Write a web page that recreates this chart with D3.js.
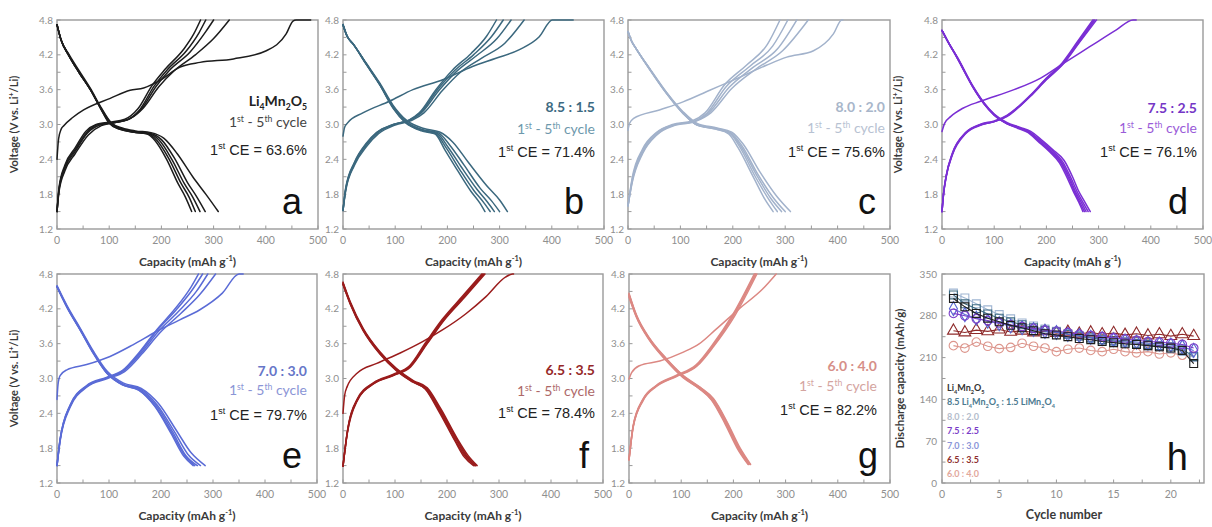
<!DOCTYPE html>
<html><head><meta charset="utf-8">
<script src="https://cdn.jsdelivr.net/npm/d3@7"></script>
<style>body{margin:0;background:#fff;} svg{display:block;}</style>
</head><body>
<svg id="c" width="1212" height="527"></svg>
<script>
// ---------------- DATA ----------------
const capTicks = [0,100,200,300,400,500];
const voltTicks = [1.2,1.8,2.4,3.0,3.6,4.2,4.8];
const cycleTicks = [0,5,10,15,20];
const dischargeTicks = [0,70,140,210,280,350];

// panel a: Li4Mn2O5
const aFirst = [[0,2.4],[3,2.75],[8,2.92],[13,2.98],[30,3.12],[51,3.25],[102,3.45],[140,3.59],[166,3.63],[197,3.76],[236,3.99],[274,4.07],[338,4.13],[401,4.27],[439,4.56],[452,4.78],[458,4.8],[486,4.8]];
const aCharge = [
 [[0,1.5],[4,1.85],[15,2.2],[35,2.5],[60,2.82],[85,2.98],[110,3.03],[140,3.1],[165,3.28],[195,3.65],[225,3.93],[265,4.2],[300,4.48],[330,4.8]],
 [[0,1.5],[4,1.88],[15,2.24],[35,2.54],[58,2.85],[82,2.99],[108,3.03],[137,3.09],[162,3.27],[190,3.66],[216,3.94],[255,4.25],[285,4.6],[300,4.8]],
 [[0,1.5],[4,1.9],[15,2.27],[35,2.57],[57,2.86],[78,3.0],[104,3.03],[134,3.08],[159,3.26],[186,3.66],[211,3.94],[248,4.27],[272,4.58],[285,4.8]],
 [[0,1.5],[4,1.92],[15,2.3],[35,2.6],[55,2.88],[75,3.0],[100,3.04],[130,3.09],[155,3.27],[182,3.67],[207,3.95],[243,4.3],[262,4.56],[275,4.8]]
];
const aDischarge = [
 [[0,4.72],[8,4.45],[22,4.22],[42,3.93],[64,3.62],[84,3.3],[104,3.03],[125,2.94],[150,2.89],[180,2.86],[205,2.76],[230,2.5],[260,2.1],[285,1.8],[309,1.5]],
 [[0,4.72],[8,4.45],[22,4.2],[42,3.9],[64,3.6],[84,3.28],[103,3.03],[122,2.93],[148,2.88],[178,2.85],[200,2.74],[225,2.42],[250,2.0],[268,1.75],[284,1.5]],
 [[0,4.72],[8,4.45],[22,4.2],[42,3.9],[64,3.6],[84,3.28],[102,3.02],[121,2.93],[146,2.87],[176,2.84],[196,2.73],[220,2.4],[244,1.98],[260,1.75],[274,1.5]],
 [[0,4.72],[8,4.45],[22,4.2],[42,3.9],[64,3.6],[84,3.27],[101,3.02],[120,2.92],[145,2.87],[174,2.84],[192,2.72],[215,2.4],[238,1.98],[253,1.75],[265,1.5]],
 [[0,4.72],[8,4.45],[22,4.2],[42,3.9],[64,3.6],[84,3.27],[100,3.02],[119,2.92],[144,2.87],[172,2.84],[188,2.72],[210,2.4],[232,1.98],[246,1.75],[258,1.5]]
];

// panel b: 8.5 : 1.5
const bFirst = [[0,2.8],[3,2.95],[8,3.02],[38,3.2],[89,3.4],[134,3.6],[191,3.77],[248,4.0],[293,4.14],[338,4.29],[376,4.51],[401,4.8],[441,4.8]];
const bCharge = [
 [[0,1.52],[5,1.85],[22,2.3],[45,2.62],[68,2.84],[100,2.99],[132,3.07],[155,3.2],[190,3.58],[225,3.9],[265,4.14],[310,4.4],[347,4.8]],
 [[0,1.52],[5,1.87],[22,2.32],[45,2.65],[66,2.85],[98,3.0],[130,3.08],[150,3.2],[184,3.59],[218,3.92],[255,4.18],[295,4.48],[322,4.8]],
 [[0,1.52],[5,1.88],[22,2.34],[45,2.67],[65,2.86],[97,3.0],[128,3.08],[148,3.2],[181,3.6],[214,3.93],[250,4.2],[285,4.52],[307,4.8]],
 [[0,1.52],[5,1.9],[22,2.35],[45,2.68],[64,2.86],[96,3.0],[127,3.08],[146,3.2],[178,3.6],[210,3.94],[245,4.22],[275,4.52],[294,4.8]]
];
const bDischarge = [
 [[0,4.72],[8,4.52],[20,4.38],[45,4.05],[70,3.72],[96,3.33],[122,3.07],[155,2.93],[185,2.87],[210,2.7],[240,2.35],[275,1.95],[300,1.7],[315,1.5]],
 [[0,4.72],[8,4.52],[20,4.38],[45,4.04],[70,3.7],[96,3.31],[121,3.05],[153,2.91],[182,2.86],[205,2.64],[232,2.3],[263,1.9],[285,1.68],[300,1.5]],
 [[0,4.72],[8,4.52],[20,4.38],[45,4.04],[70,3.7],[96,3.3],[121,3.04],[152,2.9],[180,2.85],[202,2.6],[228,2.25],[257,1.88],[277,1.66],[290,1.5]],
 [[0,4.72],[8,4.52],[20,4.38],[45,4.03],[70,3.69],[96,3.29],[120,3.03],[151,2.9],[178,2.84],[199,2.58],[224,2.22],[251,1.86],[270,1.65],[282,1.5]],
 [[0,4.72],[8,4.52],[20,4.38],[45,4.03],[70,3.69],[96,3.28],[120,3.03],[150,2.89],[176,2.84],[196,2.55],[220,2.2],[245,1.85],[262,1.65],[272,1.5]]
];

// panel c: 8.0 : 2.0
const cFirst = [[0,2.9],[3,3.02],[10,3.1],[60,3.25],[105,3.39],[156,3.59],[200,3.76],[264,4.02],[303,4.16],[354,4.27],[392,4.56],[408,4.8],[410,4.8]];
const cCharge = [
 [[0,1.6],[8,2.0],[28,2.5],[55,2.82],[88,2.98],[128,3.05],[158,3.2],[198,3.62],[245,3.96],[295,4.27],[344,4.8]],
 [[0,1.6],[8,2.02],[28,2.52],[55,2.83],[87,2.99],[126,3.05],[154,3.2],[193,3.64],[238,3.98],[285,4.3],[322,4.8]],
 [[0,1.6],[8,2.05],[28,2.55],[54,2.85],[86,2.99],[124,3.05],[150,3.19],[188,3.66],[232,4.0],[276,4.35],[305,4.8]],
 [[0,1.6],[8,2.08],[28,2.58],[54,2.86],[85,3.0],[122,3.06],[147,3.2],[184,3.68],[226,4.02],[266,4.38],[290,4.8]]
];
const cDischarge = [
 [[0,4.6],[6,4.45],[16,4.3],[41,3.97],[73,3.56],[105,3.22],[132,3.02],[170,2.94],[198,2.87],[220,2.66],[252,2.18],[285,1.75],[310,1.5]],
 [[0,4.6],[6,4.45],[16,4.3],[41,3.96],[73,3.55],[105,3.2],[131,3.0],[169,2.93],[196,2.86],[217,2.64],[248,2.14],[278,1.73],[300,1.5]],
 [[0,4.6],[6,4.45],[16,4.3],[41,3.96],[73,3.55],[105,3.2],[131,3.0],[169,2.93],[195,2.85],[215,2.63],[246,2.12],[273,1.72],[293,1.5]],
 [[0,4.6],[6,4.45],[16,4.3],[41,3.96],[73,3.54],[105,3.19],[130,3.0],[168,2.92],[194,2.85],[213,2.62],[243,2.1],[268,1.72],[285,1.5]],
 [[0,4.6],[6,4.45],[16,4.3],[41,3.95],[73,3.54],[105,3.19],[130,3.0],[167,2.92],[192,2.84],[210,2.6],[240,2.08],[262,1.7],[277,1.5]]
];

// panel d: 7.5 : 2.5
const dFirst = [[0,2.88],[5,3.02],[17,3.14],[40,3.28],[74,3.4],[138,3.6],[189,3.8],[232,4.05],[283,4.34],[334,4.63],[366,4.8],[372,4.8]];
const dCharge = [
 [[0,1.5],[3,1.8],[8,2.1],[20,2.48],[45,2.84],[75,2.99],[100,3.05],[125,3.14],[150,3.32],[170,3.49],[200,3.77],[233,4.05],[262,4.4],[296,4.8]],
 [[0,1.5],[3,1.8],[8,2.1],[20,2.49],[45,2.85],[75,3.0],[100,3.05],[125,3.15],[150,3.33],[170,3.5],[200,3.78],[232,4.05],[261,4.4],[293,4.8]],
 [[0,1.5],[3,1.81],[8,2.11],[20,2.5],[45,2.85],[75,3.0],[100,3.05],[125,3.15],[150,3.33],[170,3.5],[200,3.79],[232,4.06],[260,4.41],[291,4.8]],
 [[0,1.5],[3,1.82],[8,2.12],[20,2.51],[45,2.86],[75,3.01],[100,3.06],[125,3.16],[150,3.34],[170,3.51],[200,3.8],[231,4.07],[259,4.42],[289,4.8]]
];
const dDischarge = [
 [[0,4.62],[10,4.45],[30,4.15],[60,3.65],[80,3.38],[100,3.18],[125,3.03],[150,2.95],[170,2.88],[190,2.74],[212,2.57],[234,2.38],[250,2.1],[262,1.85],[274,1.66],[284,1.5]],
 [[0,4.62],[10,4.45],[30,4.14],[60,3.64],[80,3.37],[100,3.17],[124,3.02],[149,2.94],[168,2.87],[188,2.73],[210,2.56],[231,2.36],[247,2.08],[259,1.84],[270,1.66],[280,1.5]],
 [[0,4.62],[10,4.45],[30,4.14],[60,3.64],[80,3.37],[100,3.17],[124,3.02],[148,2.94],[167,2.87],[186,2.72],[208,2.55],[229,2.35],[245,2.07],[256,1.84],[267,1.66],[276,1.5]],
 [[0,4.62],[10,4.45],[30,4.13],[60,3.63],[80,3.36],[100,3.16],[123,3.02],[147,2.94],[166,2.87],[185,2.72],[206,2.55],[227,2.35],[243,2.07],[254,1.84],[264,1.66],[273,1.5]],
 [[0,4.62],[10,4.45],[30,4.13],[60,3.63],[80,3.36],[100,3.16],[123,3.02],[146,2.93],[165,2.86],[184,2.71],[205,2.54],[225,2.34],[241,2.06],[252,1.84],[262,1.66],[270,1.5]]
];

// panel e: 7.0 : 3.0
const eFirst = [[0,2.64],[2,2.9],[6,3.05],[19,3.15],[57,3.24],[102,3.38],[146,3.58],[191,3.81],[236,4.01],[274,4.18],[318,4.47],[350,4.8],[358,4.8]];
const eCharge = [
 [[0,1.5],[6,1.92],[25,2.5],[57,2.85],[97,3.0],[130,3.12],[163,3.42],[197,3.78],[238,4.12],[275,4.45],[305,4.8]],
 [[0,1.5],[6,1.94],[25,2.52],[57,2.86],[96,3.01],[128,3.13],[161,3.43],[194,3.8],[233,4.15],[268,4.5],[290,4.8]],
 [[0,1.5],[6,1.95],[25,2.53],[57,2.87],[96,3.01],[127,3.13],[159,3.44],[191,3.81],[229,4.18],[262,4.55],[280,4.8]],
 [[0,1.5],[6,1.96],[25,2.54],[57,2.88],[95,3.02],[126,3.14],[158,3.45],[190,3.82],[227,4.2],[258,4.58],[272,4.8]]
];
const eDischarge = [
 [[0,4.6],[19,4.26],[45,3.86],[70,3.47],[97,3.12],[128,2.92],[162,2.83],[196,2.56],[230,2.1],[258,1.72],[285,1.5]],
 [[0,4.58],[19,4.24],[45,3.84],[70,3.45],[96,3.1],[127,2.9],[160,2.82],[193,2.54],[226,2.08],[252,1.69],[276,1.5]],
 [[0,4.58],[19,4.24],[45,3.84],[70,3.44],[96,3.1],[127,2.9],[159,2.81],[191,2.53],[223,2.07],[248,1.67],[270,1.5]],
 [[0,4.58],[19,4.23],[45,3.83],[70,3.44],[96,3.09],[126,2.89],[158,2.8],[189,2.52],[221,2.06],[246,1.67],[265,1.5]],
 [[0,4.58],[19,4.23],[45,3.83],[70,3.43],[96,3.09],[126,2.89],[157,2.8],[188,2.52],[219,2.06],[244,1.66],[262,1.5]]
];

// panel f: 6.5 : 3.5
const fFirst = [[0,2.4],[3,2.7],[8,2.86],[27,3.09],[65,3.26],[110,3.44],[154,3.64],[192,3.84],[237,4.12],[275,4.41],[313,4.75],[326,4.8],[328,4.8]];
const fCharge = [
 [[0,1.49],[8,2.04],[27,2.61],[59,2.91],[97,3.05],[130,3.2],[162,3.6],[194,4.0],[234,4.4],[273,4.8]],
 [[0,1.49],[8,2.05],[27,2.62],[59,2.91],[97,3.06],[129,3.21],[161,3.6],[193,4.0],[232,4.4],[271,4.8]],
 [[0,1.49],[8,2.06],[27,2.63],[59,2.92],[97,3.06],[129,3.21],[160,3.61],[192,4.01],[231,4.41],[269,4.8]],
 [[0,1.49],[8,2.07],[27,2.64],[59,2.93],[96,3.07],[128,3.22],[159,3.62],[191,4.02],[230,4.42],[267,4.8]]
];
const fDischarge = [
 [[0,4.66],[14,4.32],[39,3.86],[71,3.46],[103,3.17],[136,2.96],[162,2.84],[188,2.48],[220,1.96],[240,1.68],[258,1.5]],
 [[0,4.64],[14,4.3],[39,3.84],[71,3.45],[103,3.16],[135,2.95],[161,2.83],[187,2.47],[219,1.95],[238,1.67],[256,1.5]],
 [[0,4.64],[14,4.3],[39,3.84],[71,3.44],[103,3.15],[135,2.95],[160,2.83],[186,2.46],[218,1.94],[237,1.66],[255,1.5]],
 [[0,4.62],[14,4.29],[39,3.83],[71,3.43],[103,3.14],[134,2.94],[159,2.82],[185,2.45],[216,1.93],[235,1.66],[253,1.5]],
 [[0,4.62],[14,4.28],[39,3.82],[71,3.42],[103,3.13],[134,2.94],[158,2.82],[184,2.44],[215,1.93],[233,1.65],[251,1.5]]
];

// panel g: 6.0 : 4.0
const gFirst = [[0,2.99],[5,3.1],[20,3.22],[59,3.3],[103,3.45],[135,3.6],[167,3.85],[211,4.2],[256,4.54],[282,4.8]];
const gCharge = [
 [[0,1.6],[8,2.16],[27,2.62],[52,2.86],[90,3.03],[130,3.21],[162,3.55],[202,4.07],[245,4.8]],
 [[0,1.6],[8,2.17],[27,2.63],[52,2.87],[90,3.04],[129,3.22],[161,3.56],[200,4.08],[243,4.8]],
 [[0,1.6],[8,2.18],[27,2.64],[52,2.87],[90,3.04],[129,3.22],[160,3.56],[199,4.08],[242,4.8]],
 [[0,1.6],[8,2.19],[27,2.65],[52,2.88],[89,3.05],[128,3.23],[159,3.57],[198,4.09],[240,4.8]]
];
const gDischarge = [
 [[0,4.47],[14,4.1],[39,3.7],[71,3.35],[103,3.06],[136,2.85],[162,2.65],[188,2.25],[213,1.8],[233,1.52]],
 [[0,4.45],[14,4.09],[39,3.69],[71,3.34],[103,3.05],[135,2.85],[161,2.65],[187,2.25],[212,1.79],[232,1.52]],
 [[0,4.44],[14,4.08],[39,3.68],[71,3.33],[103,3.04],[135,2.84],[160,2.64],[186,2.24],[211,1.78],[230,1.52]],
 [[0,4.42],[14,4.07],[39,3.67],[71,3.32],[103,3.03],[134,2.83],[159,2.63],[185,2.23],[210,1.78],[229,1.52]],
 [[0,4.4],[14,4.06],[39,3.66],[71,3.31],[103,3.02],[134,2.83],[158,2.63],[184,2.22],[209,1.77],[228,1.52]]
];

// panel h: discharge capacity vs cycle
const cycles = [1,2,3,4,5,6,7,8,9,10,11,12,13,14,15,16,17,18,19,20,21,22];
const hLi4Mn2O5 = [309,295,284,276,270,264,260,255,250,248,245,242,240,237,235,233,232,230,228,226,222,200];
const h85 = [315,300,292,283,276,270,265,260,256,253,249,246,243,240,238,236,234,232,230,228,224,212];
const h80 = [318,310,300,290,282,275,268,263,258,254,250,246,243,240,237,234,232,230,228,225,220,210];
const h75 = [284,280,275,272,268,265,262,259,256,254,252,249,247,245,243,241,239,237,236,234,232,226];
const h70 = [292,282,276,271,267,263,260,257,254,252,249,247,244,242,240,238,236,234,233,231,228,222];
const h65 = [255,252,256,254,257,253,255,252,254,251,253,250,252,249,251,248,250,247,249,246,249,246];
const h60 = [230,226,236,229,225,227,234,229,226,220,224,226,222,220,224,220,218,220,216,218,214,212];
const legendLabels = ["Li4Mn2O5","8.5 Li4Mn2O5 : 1.5 LiMn2O4","8.0 : 2.0","7.5 : 2.5","7.0 : 3.0","6.5 : 3.5","6.0 : 4.0"];

// ---------------- DRAW ----------------
const svg = d3.select('#c');
const TICKC = '#8f8f8f', FRAME = '#9a9a9a', TITLEC = '#3a3a3a';

function rich(text, parts, fs) {
  let shift = 0;
  parts.forEach(([t, k]) => {
    const ts = text.append('tspan').text(t);
    const target = k === 'sub' ? fs * 0.28 : k === 'sup' ? -fs * 0.38 : 0;
    if (target - shift !== 0) ts.attr('dy', target - shift);
    shift = target;
    if (k !== 'n') ts.attr('font-size', fs * 0.62);
  });
}
function chemParts(s) {
  const out = [];
  for (let i = 0; i < s.length; i++) {
    const ch = s[i];
    if (/\d/.test(ch) && i > 0 && /[a-zA-Z]/.test(s[i-1])) out.push([ch, 'sub']);
    else if (out.length && out[out.length-1][1] === 'n') out[out.length-1][0] += ch;
    else out.push([ch, 'n']);
  }
  return out;
}

const panels = [
  {first:aFirst, charge:aCharge, dis:aDischarge, x0:57, x1:318, y0:20, y1:229, color:'#1c1c1c',
   title:'Li4Mn2O5', titleColor:'#222', cycColor:'#444', ce:'63.6%', letter:'a', tx:307, ty:[106,127,155], lx:302, ly:214, ylab:true, ylabX:18},
  {first:bFirst, charge:bCharge, dis:bDischarge, x0:343, x1:604, y0:20, y1:229, color:'#3b687e',
   title:'8.5 : 1.5', titleColor:'#3d6a82', cycColor:'#6d98ac', ce:'71.4%', letter:'b', tx:595, ty:[112,134,157], lx:584, ly:214},
  {first:cFirst, charge:cCharge, dis:cDischarge, x0:628, x1:890, y0:20, y1:229, color:'#a2b2cb',
   title:'8.0 : 2.0', titleColor:'#a8b6ca', cycColor:'#b7c2d2', ce:'75.6%', letter:'c', tx:885, ty:[112,133,157], lx:876, ly:214},
  {first:dFirst, charge:dCharge, dis:dDischarge, x0:942, x1:1203, y0:20, y1:229, color:'#7a2fd4',
   title:'7.5 : 2.5', titleColor:'#7536c6', cycColor:'#9a5bd8', ce:'76.1%', letter:'d', tx:1197, ty:[113,133,157], lx:1188, ly:214, ylab:true, ylabX:902},
  {first:eFirst, charge:eCharge, dis:eDischarge, x0:57, x1:317, y0:274, y1:483, color:'#5a6bd6',
   title:'7.0 : 3.0', titleColor:'#6676c8', cycColor:'#8b95d6', ce:'79.7%', letter:'e', tx:307, ty:[376,395,420], lx:302, ly:468, ylab:true, ylabX:18},
  {first:fFirst, charge:fCharge, dis:fDischarge, x0:343, x1:603, y0:274, y1:483, color:'#9a1c1c',
   title:'6.5 : 3.5', titleColor:'#962828', cycColor:'#ad6868', ce:'78.4%', letter:'f', tx:595, ty:[375,396,418], lx:589, ly:468},
  {first:gFirst, charge:gCharge, dis:gDischarge, x0:629, x1:890, y0:274, y1:483, color:'#dc8883',
   title:'6.0 : 4.0', titleColor:'#d68f88', cycColor:'#d4a4a0', ce:'82.2%', letter:'g', tx:877, ty:[371,391,415], lx:878, ly:468}
];

function frameAndTicks(g, x, y, xt, xMinor, yMinor, x0, x1, y0, y1) {
  g.append('rect').attr('x', x0).attr('y', y0).attr('width', x1 - x0).attr('height', y1 - y0)
    .attr('fill', 'none').attr('stroke', FRAME).attr('stroke-width', 1.4);
  xMinor.forEach(v => g.append('line').attr('x1', x(v)).attr('x2', x(v)).attr('y1', y1).attr('y2', y1 - 3.5)
    .attr('stroke', FRAME).attr('stroke-width', 1));
  yMinor.forEach(v => g.append('line').attr('x1', x0).attr('x2', x0 + 3.5).attr('y1', y(v)).attr('y2', y(v))
    .attr('stroke', FRAME).attr('stroke-width', 1));
  xt.forEach(v => g.append('text').attr('x', x(v)).attr('y', y1 + 15).attr('text-anchor', 'middle')
    .attr('font-family', 'Lato').attr('font-size', 10.5).attr('fill', TICKC).text(v));
}

panels.forEach(p => {
  const g = svg.append('g');
  const x = d3.scaleLinear().domain([0, 500]).range([p.x0, p.x1]);
  const y = d3.scaleLinear().domain([1.2, 4.8]).range([p.y1, p.y0]);
  const xMinor = d3.range(0, 501, 50);
  const yMinor = d3.range(12, 49, 3).map(v => v / 10);
  frameAndTicks(g, x, y, capTicks, xMinor, yMinor, p.x0, p.x1, p.y0, p.y1);
  voltTicks.forEach(v => g.append('text').attr('x', p.x0 - 4).attr('y', y(v) + 3.5).attr('text-anchor', 'end')
    .attr('font-family', 'Lato').attr('font-size', 10).attr('fill', TICKC).text(v.toFixed(1)));
  const xt = g.append('text').attr('x', (p.x0 + p.x1) / 2).attr('y', p.y1 + 37).attr('text-anchor', 'middle')
    .attr('font-family', 'Lato').attr('font-weight', 'bold').attr('font-size', 12).attr('fill', TITLEC);
  rich(xt, [['Capacity (mAh g', 'n'], ['-1', 'sup'], [')', 'n']], 12);
  if (p.ylab) {
    const yt = g.append('text').attr('transform', `translate(${p.ylabX},${(p.y0 + p.y1) / 2}) rotate(-90)`)
      .attr('text-anchor', 'middle').attr('font-family', 'Lato').attr('font-weight', 'bold').attr('font-size', 11)
      .attr('fill', TITLEC);
    rich(yt, [['Voltage (V vs. Li', 'n'], ['+', 'sup'], ['/Li)', 'n']], 11);
  }
  const line = d3.line().x(d => x(d[0])).y(d => y(d[1])).curve(d3.curveMonotoneX);
  const lg = g.append('g').attr('fill', 'none').attr('stroke', p.color).attr('stroke-width', 1.5)
    .attr('stroke-linejoin', 'round').attr('stroke-linecap', 'round');
  p.dis.forEach(c => lg.append('path').attr('d', line(c)));
  p.charge.forEach(c => lg.append('path').attr('d', line(c)));
  lg.append('path').attr('d', line(p.first));
  const t1 = g.append('text').attr('x', p.tx).attr('y', p.ty[0]).attr('text-anchor', 'end')
    .attr('font-family', 'Lato').attr('font-weight', 'bold').attr('font-size', 14).attr('fill', p.titleColor);
  if (p.title.startsWith('Li')) rich(t1, chemParts(p.title), 14); else t1.text(p.title);
  const t2 = g.append('text').attr('x', p.tx).attr('y', p.ty[1]).attr('text-anchor', 'end')
    .attr('font-family', 'Lato').attr('font-size', 14).attr('fill', p.cycColor);
  rich(t2, [['1', 'n'], ['st', 'sup'], [' - 5', 'n'], ['th', 'sup'], [' cycle', 'n']], 14);
  const t3 = g.append('text').attr('x', p.tx).attr('y', p.ty[2]).attr('text-anchor', 'end')
    .attr('font-family', 'Liberation Sans').attr('font-size', 14.5).attr('fill', '#222');
  rich(t3, [['1', 'n'], ['st', 'sup'], [' CE = ' + p.ce, 'n']], 14.5);
  g.append('text').attr('x', p.lx).attr('y', p.ly).attr('text-anchor', 'end')
    .attr('font-family', 'Liberation Sans').attr('font-size', 36).attr('fill', '#111').text(p.letter);
});

// ---------- panel h ----------
(function () {
  const x0 = 942, x1 = 1204, y0 = 274, y1 = 483;
  const g = svg.append('g');
  const x = d3.scaleLinear().domain([0, 22.9]).range([x0, x1]);
  const y = d3.scaleLinear().domain([0, 350]).range([y1, y0]);
  frameAndTicks(g, x, y, cycleTicks, d3.range(0, 23, 2.5), d3.range(0, 351, 35), x0, x1, y0, y1);
  dischargeTicks.forEach(v => g.append('text').attr('x', x0 - 5).attr('y', y(v) + 3.5).attr('text-anchor', 'end')
    .attr('font-family', 'Lato').attr('font-size', 10).attr('fill', TICKC).text(v));
  g.append('text').attr('x', 1064).attr('y', 519).attr('text-anchor', 'middle').attr('font-family', 'Lato')
    .attr('font-weight', 'bold').attr('font-size', 12.5).attr('fill', TITLEC).text('Cycle number');
  g.append('text').attr('transform', `translate(904,${(y0 + y1) / 2}) rotate(-90)`).attr('text-anchor', 'middle')
    .attr('font-family', 'Lato').attr('font-weight', 'bold').attr('font-size', 11.5).attr('fill', TITLEC)
    .text('Discharge capacity (mAh/g)');
  const series = [
    {v: h65, c: '#8e2a2a', s: d3.symbolTriangle, size: 60},
    {v: h60, c: '#dc958c', s: d3.symbolCircle, size: 58},
    {v: h80, c: '#9fb5d2', s: d3.symbolSquare, size: 62},
    {v: h85, c: '#3d6b82', s: d3.symbolSquare, size: 62},
    {v: h70, c: '#5566d2', s: d3.symbolDiamond, size: 56},
    {v: h75, c: '#7a3cc8', s: d3.symbolCircle, size: 58},
    {v: hLi4Mn2O5, c: '#1e1e1e', s: d3.symbolSquare, size: 62}
  ];
  const line = d3.line().x((d, i) => x(cycles[i])).y(d => y(d));
  series.forEach(s => {
    g.append('path').attr('d', line(s.v)).attr('fill', 'none').attr('stroke', s.c).attr('stroke-width', 1.1);
    g.selectAll(null).data(s.v).enter().append('path')
      .attr('transform', (d, i) => `translate(${x(cycles[i])},${y(d)})`)
      .attr('d', d3.symbol().type(s.s).size(s.size)).attr('fill', 'none').attr('stroke', s.c).attr('stroke-width', 1.1);
  });
  const lcol = ['#333', '#4b7a90', '#b3bccb', '#7a3cc8', '#8a95d8', '#8e2f2f', '#e2a79c'];
  legendLabels.forEach((l, i) => {
    const t = g.append('text').attr('x', 947).attr('y', 391 + i * 14.4).attr('font-family', 'Lato')
      .attr('font-weight', 'bold').attr('font-size', 9).attr('fill', lcol[i]);
    if (l.includes('Li')) rich(t, chemParts(l), 9); else t.text(l);
  });
  g.append('text').attr('x', 1188).attr('y', 470).attr('text-anchor', 'end').attr('font-family', 'Liberation Sans')
    .attr('font-size', 38).attr('fill', '#111').text('h');
})();
</script></body></html>
